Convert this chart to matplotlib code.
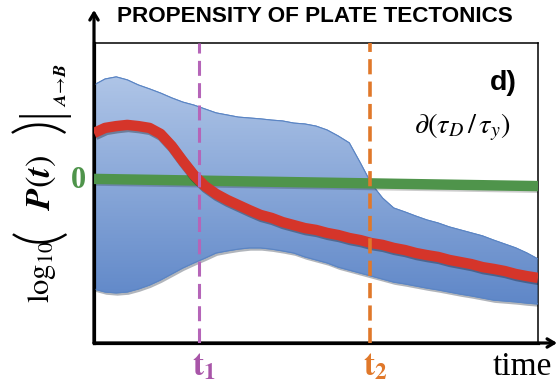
import numpy as np
import matplotlib
matplotlib.use("Agg")
import matplotlib.pyplot as plt
import matplotlib.patheffects as pe
from matplotlib.colors import LinearSegmentedColormap

plt.rcParams['mathtext.fontset'] = 'stix'

# time axis (arbitrary units) and curves (0 = green line level)
time = [0, 0.25, 0.5, 0.75, 1, 1.25, 1.5, 1.75, 2, 2.25, 2.5, 2.75, 3, 3.25, 3.5, 3.75,
        4, 4.25, 4.5, 4.75, 5, 5.25, 5.5, 5.75, 6, 6.25, 6.5, 6.75, 7, 7.25, 7.5, 7.75,
        8, 8.25, 8.5, 8.75, 9, 9.25, 9.5, 9.75, 10]
band_upper = [3.20, 3.40, 3.47, 3.37, 3.20, 3.07, 2.93, 2.77, 2.63, 2.53, 2.40, 2.27,
              2.20, 2.13, 2.10, 2.07, 2.03, 2.00, 1.93, 1.90, 1.83, 1.70, 1.50, 1.27,
              0.60, -0.10, -0.57, -0.90, -1.03, -1.17, -1.30, -1.40, -1.53, -1.63,
              -1.73, -1.83, -1.97, -2.10, -2.23, -2.40, -2.60]
band_lower = [-3.60, -3.70, -3.73, -3.70, -3.60, -3.47, -3.30, -3.10, -2.90, -2.73,
              -2.57, -2.40, -2.33, -2.27, -2.23, -2.23, -2.27, -2.33, -2.40, -2.53,
              -2.63, -2.73, -2.87, -2.97, -3.07, -3.17, -3.27, -3.37, -3.43, -3.50,
              -3.57, -3.63, -3.70, -3.77, -3.83, -3.90, -3.97, -4.00, -4.03, -4.07, -4.10]
red_curve = [1.60, 1.77, 1.83, 1.87, 1.83, 1.77, 1.57, 1.17, 0.67, 0.20, -0.17, -0.43,
             -0.63, -0.80, -0.97, -1.13, -1.23, -1.37, -1.47, -1.57, -1.63, -1.73,
             -1.80, -1.90, -1.97, -2.07, -2.13, -2.23, -2.30, -2.40, -2.47, -2.53,
             -2.63, -2.70, -2.77, -2.87, -2.93, -3.00, -3.10, -3.17, -3.23]
green_t = [0, 10]
green_line = [0.07, -0.17]
t1 = 2.36
t2 = 6.22

W, H = 557, 388
fig = plt.figure(figsize=(W / 100, H / 100), dpi=100)
ax = fig.add_axes([94 / W, 1 - 343 / H, 444 / W, 300 / H])
ax.set_xticks([])
ax.set_yticks([])
for s in ['top', 'right']:
    ax.spines[s].set_linewidth(1.1)
for s in ['left', 'bottom']:
    ax.spines[s].set_linewidth(2.3)


def fx(px):
    return px / W


def fy(py):
    return 1 - py / H


# blue band with a vertical gradient
poly = ax.fill_between(time, band_lower, band_upper, facecolor='#6a90cd',
                       edgecolor='#5b85c4', linewidth=0.8, zorder=1,
                       path_effects=[pe.SimplePatchShadow(offset=(1, -2), alpha=0.35), pe.Normal()])
cmap = LinearSegmentedColormap.from_list('band', ['#afc5e7', '#5f87c8'])
grad = np.linspace(0, 1, 256).reshape(-1, 1)
im = ax.imshow(grad, cmap=cmap, aspect='auto', extent=[0, 10, min(band_lower), max(band_upper)],
               origin='upper', zorder=2)
im.set_clip_path(poly.get_paths()[0], transform=ax.transData)
ax.fill_between(time, band_lower, band_upper, facecolor='none', edgecolor='#5b85c4',
                linewidth=0.8, zorder=3)
ax.set_xlim(0, 10)
ax.set_ylim(-5.4, 4.6)

ax.plot(green_t, green_line, color='#4f944b', lw=7.5, solid_capstyle='butt', zorder=4,
        path_effects=[pe.SimpleLineShadow(offset=(0.8, -1.2), alpha=0.2), pe.Normal()])
ax.plot(time, red_curve, color='#d5352a', lw=7.5, solid_capstyle='butt', zorder=5,
        solid_joinstyle='round',
        path_effects=[pe.SimpleLineShadow(offset=(0.8, -1.5), alpha=0.3), pe.Normal()])

ax.axvline(t1, color='#b565b8', lw=2.2, dashes=(4.9, 2.4), zorder=6)
ax.axvline(t2, color='#e0782a', lw=2.6, dashes=(4.2, 2.0), zorder=6)

# axis arrows
arrow = dict(arrowstyle='->,head_length=0.5,head_width=0.3', lw=2.3, color='black',
             shrinkA=0, shrinkB=0)
ax.annotate('', xy=(0, 1.11), xytext=(0, 0), xycoords='axes fraction',
            arrowprops=arrow, annotation_clip=False)
ax.annotate('', xy=(1.043, 0), xytext=(0, 0), xycoords='axes fraction',
            arrowprops=arrow, annotation_clip=False)

# texts
ax.text(0.498, 1.09, 'PROPENSITY OF PLATE TECTONICS', transform=ax.transAxes,
        ha='center', va='center', fontsize=16.2, fontweight='bold', family='Liberation Sans')
ax.text(0.953, 0.867, 'd)', transform=ax.transAxes, ha='right', va='center',
        fontsize=20.5, fontweight='bold', family='Liberation Sans')
ax.text(0.83, 0.72, r'$\partial\left(\tau_D\,/\,\tau_y\right)$', transform=ax.transAxes,
        ha='center', va='center', fontsize=20.5)
ax.text(-0.036, 0.0, '0', transform=ax.get_yaxis_transform(), ha='center', va='center',
        fontsize=22, fontweight='bold', family='Liberation Serif', color='#4f944b')
ax.text(t1 - 0.16, -0.107, r'$\mathbf{t_1}$', transform=ax.get_xaxis_transform(),
        ha='left', va='baseline', fontsize=24, color='#a855a8')
ax.text(t2 - 0.16, -0.107, r'$\mathbf{t_2}$', transform=ax.get_xaxis_transform(),
        ha='left', va='baseline', fontsize=24, color='#e0782a')
ax.text(1.032, -0.107, 'time', transform=ax.transAxes, ha='right', va='baseline',
        fontsize=24, family='Liberation Serif')

# y label, built from pieces so the outer brackets can be large and thin
rot = dict(rotation=90, rotation_mode='anchor', ha='left', va='baseline')
thin = dict(family='Lato', fontweight=300)
fig.text(fx(49), fy(303), r'$\log_{10}$', fontsize=22, **rot)
fig.text(fx(57), fy(243), '(', fontsize=44, **thin, **rot)
fig.text(fx(50), fy(210), r'$\mathbfit{P}(\mathbfit{t})$', fontsize=25, **rot)
fig.text(fx(57), fy(133), ')', fontsize=44, **thin, **rot)
fig.text(fx(56), fy(117), '|', fontsize=40, **thin, **rot)
fig.text(fx(66), fy(107), r'$\mathbfit{A}\!\rightarrow\!\mathbfit{B}$', fontsize=13, **rot)

fig.savefig('out.png', dpi=100)
